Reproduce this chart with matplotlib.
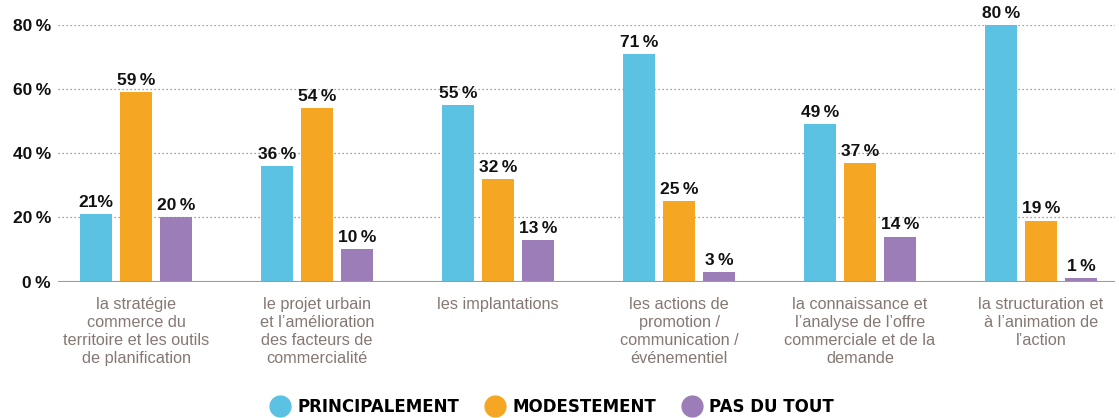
import matplotlib
matplotlib.use("Agg")
import matplotlib.pyplot as plt
from matplotlib.lines import Line2D
import numpy as np

categories = [
    "la stratégie\ncommerce du\nterritoire et les outils\nde planification",
    "le projet urbain\net l’amélioration\ndes facteurs de\ncommercialité",
    "les implantations",
    "les actions de\npromotion /\ncommunication /\névénementiel",
    "la connaissance et\nl’analyse de l’offre\ncommerciale et de la\ndemande",
    "la structuration et\nà l’animation de\nl’action",
]
series_names = ["PRINCIPALEMENT", "MODESTEMENT", "PAS DU TOUT"]
principalement = [21, 36, 55, 71, 49, 80]
modestement = [59, 54, 32, 25, 37, 19]
pas_du_tout = [20, 10, 13, 3, 14, 1]
yticks = [0, 20, 40, 60, 80]
ytick_labels = ["0\u2009%", "20\u2009%", "40\u2009%", "60\u2009%", "80\u2009%"]

colors = ["#5BC2E3", "#F5A724", "#9D7DB8"]
text_grey = "#857873"
axis_col = "#a39893"

W, H = 1119, 418
fig = plt.figure(figsize=(W / 100, H / 100), dpi=100)
ax = fig.add_axes([58 / W, (H - 281.5) / H, (1115 - 58) / W, (281.5 - 25) / H])

FONT = "Liberation Sans"
x = np.arange(len(categories))
step = 40 / 181
bw = 32 / 181
data = [principalement, modestement, pas_du_tout]
for i, vals in enumerate(data):
    pos = x + (i - 1) * step
    bars = ax.bar(pos, vals, width=bw, color=colors[i], zorder=3)
    for p, v in zip(pos, vals):
        lab = f"{v}%" if (i == 0 and v == 21) else f"{v}\u2009%"
        ax.text(p, v + 1.3, lab, ha="center", va="bottom", fontsize=12.5,
                fontweight="bold", family=FONT, color="#111111", clip_on=False)

ax.set_xlim((58 - 136) / 181, (1115 - 136) / 181)
ax.set_ylim(0, 80)
for yv in yticks[1:]:
    ax.axhline(yv, color="#8d817c", lw=0.9, linestyle=(0, (1, 2.2)), zorder=1)
ax.axhline(0, color=axis_col, lw=1.5, zorder=4)

for s in ax.spines.values():
    s.set_visible(False)
ax.set_yticks(yticks)
ax.set_yticklabels(ytick_labels, family=FONT, fontweight="bold", fontsize=12.5, color="#111111")
ax.tick_params(axis="y", length=0, pad=5)
ax.set_xticks(x)
ax.set_xticklabels(categories, family=FONT, fontsize=11.7, color=text_grey, linespacing=1.25)
ax.tick_params(axis="x", length=0, pad=11)

handles = [Line2D([], [], marker="o", linestyle="none", markersize=15,
                  markerfacecolor=c, markeredgecolor=c) for c in colors]
leg = fig.legend(handles, series_names, loc="center", bbox_to_anchor=(552 / W, 1 - 407 / H),
                 ncol=3, frameon=False, handletextpad=0.42, columnspacing=1.5,
                 handlelength=1.26, borderpad=0, borderaxespad=0,
                 prop={"family": "DejaVu Sans", "weight": "bold", "size": 12})

fig.savefig("out.png", dpi=100)
